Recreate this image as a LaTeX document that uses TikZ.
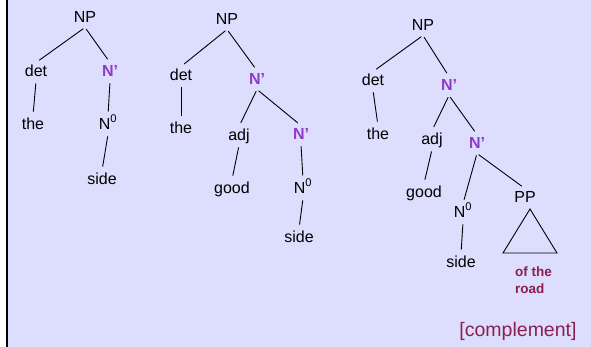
\documentclass[tikz,border=0pt]{standalone}
\usepackage{fontspec}
\setmainfont{Liberation Sans}
\definecolor{bglav}{HTML}{DDDDFD}
\definecolor{nbar}{HTML}{8E3CC8}
\definecolor{maroon}{HTML}{8B1F4F}
\begin{document}
\begin{tikzpicture}[x=1pt,y=-1pt,
  lab/.style={font=\fontsize{16}{18}\selectfont, inner sep=2pt, text height=11.5pt, text depth=3pt},
  bar/.style={lab, text=nbar, font=\fontsize{16}{18}\selectfont\bfseries},
  br/.style={draw=black, line width=0.9pt, shorten <=2pt, shorten >=4pt}]
\useasboundingbox (0,0) rectangle (591,347);
\fill[white] (0,0) rectangle (591,347);
\fill[bglav] (8,0) rectangle (591,347);
\fill[black] (6,0) rectangle (8,347);
% tree 1
\node[lab] (np1) at (85,18) {NP};
\node[lab] (det1) at (36,72) {det};
\node[bar] (nb1) at (110,72) {N'};
\node[lab] (the1) at (33,125) {the};
\node[lab] (n01) at (108,125) {N\textsuperscript{0}};
\node[lab] (side1) at (102,180) {side};
\draw[br] (np1.south) -- (det1.north);
\draw[br] (np1.south) -- (nb1.north);
\draw[br] (det1.south) -- (the1.north);
\draw[br] (nb1.south) -- (n01.north);
\draw[br] (n01.south) -- (side1.north);
% tree 2
\node[lab] (np2) at (227,20) {NP};
\node[lab] (det2) at (181,76) {det};
\node[bar] (nb2a) at (257,80) {N'};
\node[lab] (the2) at (181,129) {the};
\node[lab] (adj2) at (239,136) {adj};
\node[bar] (nb2b) at (301,135) {N'};
\node[lab] (good2) at (232,189) {good};
\node[lab] (n02) at (303,189) {N\textsuperscript{0}};
\node[lab] (side2) at (299,238) {side};
\draw[br] (np2.south) -- (det2.north);
\draw[br] (np2.south) -- (nb2a.north);
\draw[br] (det2.south) -- (the2.north);
\draw[br] (nb2a.south) -- (adj2.north);
\draw[br] (nb2a.south) -- (nb2b.north);
\draw[br] (adj2.south) -- (good2.north);
\draw[br] (nb2b.south) -- (n02.north);
\draw[br] (n02.south) -- (side2.north);
% tree 3
\node[lab] (np3) at (423,26) {NP};
\node[lab] (det3) at (373,81) {det};
\node[bar] (nb3a) at (449,86) {N'};
\node[lab] (the3) at (378,135) {the};
\node[lab] (adj3) at (432,140) {adj};
\node[bar] (nb3b) at (477,144) {N'};
\node[lab] (good3) at (424,193) {good};
\node[lab] (n03) at (463,213) {N\textsuperscript{0}};
\node[lab] (pp3) at (525,198) {PP};
\node[lab] (side3) at (461,263) {side};
\draw[br] (np3.south) -- (det3.north);
\draw[br] (np3.south) -- (nb3a.north);
\draw[br] (det3.south) -- (the3.north);
\draw[br] (nb3a.south) -- (adj3.north);
\draw[br] (nb3a.south) -- (nb3b.north);
\draw[br] (adj3.south) -- (good3.north);
\draw[br] (nb3b.south) -- (n03.north);
\draw[br] (nb3b.south) -- (pp3.north);
\draw[br] (n03.south) -- (side3.north);
\coordinate (apex) at (530,209);
\draw[line width=0.9pt, line join=miter] (apex) -- (503,253) -- (557,253) -- cycle;
\node[font=\fontsize{13.5}{17}\selectfont\bfseries, text=maroon, align=left, inner sep=0pt, anchor=west] (pptext) at (515,280.5) {of the\\road};
\node[font=\fontsize{19.5}{22}\selectfont, text=maroon, inner sep=0pt] (compl) at (518,331) {[complement]};
\end{tikzpicture}
\end{document}
